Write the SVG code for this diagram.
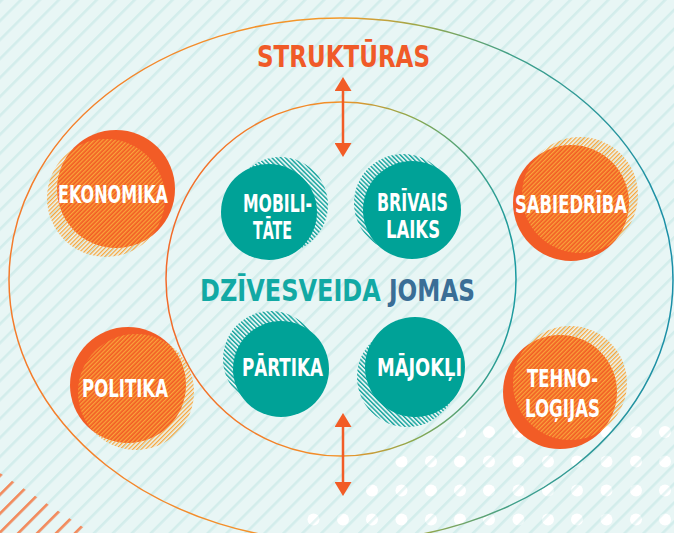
<svg xmlns="http://www.w3.org/2000/svg" width="674" height="533" viewBox="0 0 674 533">
<style>
.lbl{font-family:"Liberation Sans Narrow","DejaVu Sans Condensed","Liberation Sans",sans-serif;font-weight:700;fill:#ffffff;font-size:25px}
.big{font-family:"Liberation Sans Narrow","DejaVu Sans Condensed","Liberation Sans",sans-serif;font-weight:700;font-size:30px}
.teal{fill:#00a297}
.orange{fill:#f25c26}
.arrow{stroke:#f25c26;stroke-width:2.5;fill:none}
.dot{fill:#ffffff}
</style>
<defs>
<pattern id="bgStripe" patternUnits="userSpaceOnUse" width="13.4" height="13.4" patternTransform="rotate(45)">
<rect x="0" y="0" width="2.6" height="13.4" fill="#8fd0cb" fill-opacity="0.24"/>
</pattern>
<pattern id="orStripe" patternUnits="userSpaceOnUse" width="13.4" height="13.4" patternTransform="rotate(45)">
<rect x="0" y="0" width="2.6" height="13.4" fill="#f4895a"/>
</pattern>
<pattern id="tealHatch" patternUnits="userSpaceOnUse" width="3.2" height="3.2" patternTransform="rotate(-45)">
<rect x="0" y="0" width="1.4" height="3.2" fill="#15a39d"/>
</pattern>
<pattern id="orHatch" patternUnits="userSpaceOnUse" width="3" height="3" patternTransform="rotate(45)">
<rect x="0" y="0" width="1.3" height="3" fill="#f9a53a"/>
</pattern>
<linearGradient id="gOuter" gradientUnits="userSpaceOnUse" x1="9" y1="0" x2="673" y2="0">
<stop offset="0" stop-color="#f47b2c"/>
<stop offset="0.5" stop-color="#f39a2a"/>
<stop offset="0.62" stop-color="#9aa84a"/>
<stop offset="0.76" stop-color="#3fa08a"/>
<stop offset="1" stop-color="#1a8fa8"/>
</linearGradient>
<linearGradient id="gInner" gradientUnits="userSpaceOnUse" x1="166" y1="0" x2="516" y2="0">
<stop offset="0" stop-color="#f26a2a"/>
<stop offset="0.5" stop-color="#f39228"/>
<stop offset="0.7" stop-color="#8fa94c"/>
<stop offset="0.9" stop-color="#3aa08a"/>
<stop offset="1" stop-color="#1a9aa0"/>
</linearGradient>
<clipPath id="dotClip">
<polygon points="296,533 305,512 340,491 376,466 458,436 470,418 674,418 674,533"/>
</clipPath>
<clipPath id="cornerClip">
<polygon points="0,473 0,533 92,533"/>
</clipPath>
<marker id="ah" markerUnits="userSpaceOnUse" markerWidth="14" markerHeight="17" refX="0" refY="8.5" orient="auto-start-reverse" viewBox="0 0 14 17">
<path d="M0,0 L14,8.5 L0,17 Z" fill="#f25c26"/>
</marker>
</defs>

<rect x="0" y="0" width="674" height="533" fill="#e8f6f5"/>

<g id="dots" clip-path="url(#dotClip)">
<g id="row1">
<circle class="dot" cx="460" cy="432" r="6"/><circle class="dot" cx="489" cy="432" r="6"/><circle class="dot" cx="518.5" cy="432" r="6"/><circle class="dot" cx="548" cy="432" r="6"/><circle class="dot" cx="577" cy="432" r="6"/><circle class="dot" cx="606.5" cy="432" r="6"/><circle class="dot" cx="636" cy="432" r="6"/><circle class="dot" cx="665" cy="432" r="6"/>
</g>
<g id="row2">
<circle class="dot" cx="372" cy="461.5" r="6"/><circle class="dot" cx="401.5" cy="461.5" r="6"/><circle class="dot" cx="431" cy="461.5" r="6"/><circle class="dot" cx="460" cy="461.5" r="6"/><circle class="dot" cx="489" cy="461.5" r="6"/><circle class="dot" cx="518.5" cy="461.5" r="6"/><circle class="dot" cx="548" cy="461.5" r="6"/><circle class="dot" cx="577" cy="461.5" r="6"/><circle class="dot" cx="606.5" cy="461.5" r="6"/><circle class="dot" cx="636" cy="461.5" r="6"/><circle class="dot" cx="665" cy="461.5" r="6"/>
</g>
<g id="row3">
<circle class="dot" cx="372" cy="490.5" r="6"/><circle class="dot" cx="401.5" cy="490.5" r="6"/><circle class="dot" cx="431" cy="490.5" r="6"/><circle class="dot" cx="460" cy="490.5" r="6"/><circle class="dot" cx="489" cy="490.5" r="6"/><circle class="dot" cx="518.5" cy="490.5" r="6"/><circle class="dot" cx="548" cy="490.5" r="6"/><circle class="dot" cx="577" cy="490.5" r="6"/><circle class="dot" cx="606.5" cy="490.5" r="6"/><circle class="dot" cx="636" cy="490.5" r="6"/><circle class="dot" cx="665" cy="490.5" r="6"/>
</g>
<g id="row4">
<circle class="dot" cx="313.5" cy="519.5" r="6"/><circle class="dot" cx="343" cy="519.5" r="6"/><circle class="dot" cx="372" cy="519.5" r="6"/><circle class="dot" cx="401.5" cy="519.5" r="6"/><circle class="dot" cx="431" cy="519.5" r="6"/><circle class="dot" cx="460" cy="519.5" r="6"/><circle class="dot" cx="489" cy="519.5" r="6"/><circle class="dot" cx="518.5" cy="519.5" r="6"/><circle class="dot" cx="548" cy="519.5" r="6"/><circle class="dot" cx="577" cy="519.5" r="6"/><circle class="dot" cx="606.5" cy="519.5" r="6"/><circle class="dot" cx="636" cy="519.5" r="6"/><circle class="dot" cx="665" cy="519.5" r="6"/>
</g>
</g>

<rect x="0" y="0" width="674" height="533" fill="url(#bgStripe)"/>
<rect x="0" y="470" width="100" height="63" fill="url(#orStripe)" clip-path="url(#cornerClip)"/>

<g id="ellipses">
<ellipse id="outer" cx="341" cy="280" rx="332" ry="262" fill="none" stroke="url(#gOuter)" stroke-width="1.5"/>
<ellipse id="inner" cx="341" cy="279" rx="175" ry="177" fill="none" stroke="url(#gInner)" stroke-width="1.5"/>
</g>

<g id="connectors">
<line class="arrow" x1="343" y1="91" x2="343" y2="143" marker-start="url(#ah)" marker-end="url(#ah)"/>
<line class="arrow" x1="343" y1="427" x2="343" y2="482" marker-start="url(#ah)" marker-end="url(#ah)"/>
</g>

<text id="strukturas" class="big" x="257" y="67" fill="#f05a28" textLength="173" lengthAdjust="spacingAndGlyphs">STRUKTŪRAS</text>
<text id="dzivesveida" class="big" transform="translate(200,301) scale(0.8,1)" x="0" y="0" fill="#12a9a4" textLength="226" lengthAdjust="spacingAndGlyphs">DZĪVESVEIDA</text>
<text id="jomas" class="big" transform="translate(389,301) scale(0.8,1)" x="0" y="0" fill="#3a6e96" textLength="107.5" lengthAdjust="spacingAndGlyphs">JOMAS</text>

<g id="node-mobilitate">
<circle cx="280" cy="205" r="48" fill="url(#tealHatch)"/>
<circle class="teal" cx="269" cy="212" r="48"/>
<text class="lbl" x="243" y="212" textLength="69" lengthAdjust="spacingAndGlyphs">MOBILI-</text>
<text class="lbl" x="253" y="239" textLength="39" lengthAdjust="spacingAndGlyphs">TĀTE</text>
</g>
<g id="node-brivais-laiks">
<circle cx="403" cy="203" r="49" fill="url(#tealHatch)"/>
<circle class="teal" cx="412" cy="210" r="49"/>
<text class="lbl" x="377" y="211" textLength="71" lengthAdjust="spacingAndGlyphs">BRĪVAIS</text>
<text class="lbl" x="386" y="238" textLength="54" lengthAdjust="spacingAndGlyphs">LAIKS</text>
</g>
<g id="node-partika">
<circle cx="271" cy="359" r="48" fill="url(#tealHatch)"/>
<circle class="teal" cx="281" cy="369" r="48"/>
<text class="lbl" x="242" y="376" textLength="81" lengthAdjust="spacingAndGlyphs">PĀRTIKA</text>
</g>
<g id="node-majokli">
<circle cx="407" cy="377" r="50" fill="url(#tealHatch)"/>
<circle class="teal" cx="415" cy="367" r="50"/>
<text class="lbl" x="377" y="376" textLength="85" lengthAdjust="spacingAndGlyphs">MĀJOKĻI</text>
</g>

<g id="node-ekonomika">
<circle class="orange" cx="116" cy="189" r="59"/>
<circle cx="106" cy="198" r="59" fill="url(#orHatch)"/>
<text class="lbl" x="58" y="203" textLength="110" lengthAdjust="spacingAndGlyphs">EKONOMIKA</text>
</g>
<g id="node-sabiedriba">
<circle class="orange" cx="571" cy="203" r="58"/>
<circle cx="580" cy="195" r="58" fill="url(#orHatch)"/>
<text class="lbl" x="515" y="213" textLength="112" lengthAdjust="spacingAndGlyphs">SABIEDRĪBA</text>
</g>
<g id="node-politika">
<circle class="orange" cx="128" cy="385" r="58"/>
<circle cx="136" cy="392" r="58" fill="url(#orHatch)"/>
<text class="lbl" x="82" y="397" textLength="86" lengthAdjust="spacingAndGlyphs">POLITIKA</text>
</g>
<g id="node-tehnologijas">
<circle class="orange" cx="560" cy="392" r="57"/>
<circle cx="570" cy="383" r="57" fill="url(#orHatch)"/>
<text class="lbl" x="527" y="387" textLength="71" lengthAdjust="spacingAndGlyphs">TEHNO-</text>
<text class="lbl" x="525" y="417" textLength="75" lengthAdjust="spacingAndGlyphs">LOĢIJAS</text>
</g>
</svg>
